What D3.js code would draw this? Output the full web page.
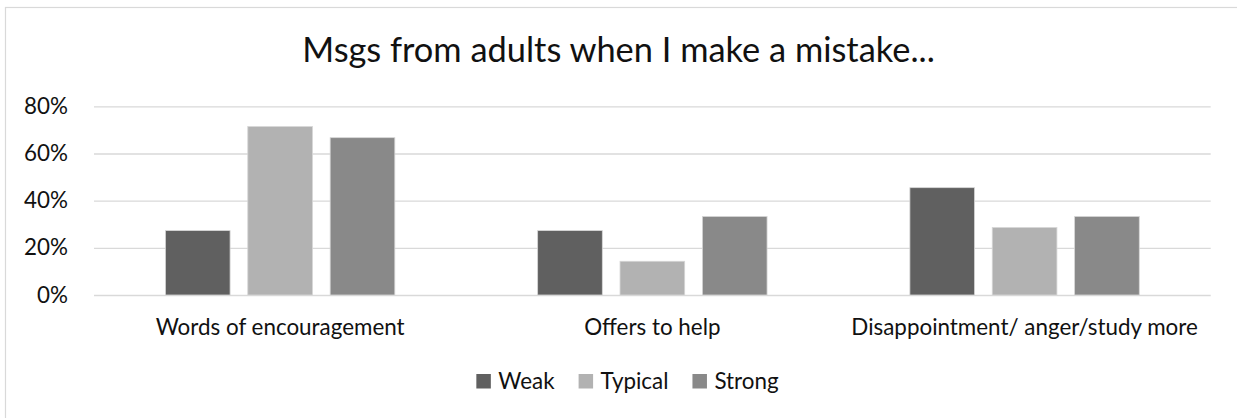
<!DOCTYPE html>
<html>
<head>
<meta charset="utf-8">
<script src="https://cdn.jsdelivr.net/npm/d3@7"></script>
<style>
  html, body { margin: 0; padding: 0; background: #fff; }
  svg { display: block; font-family: Lato, "Open Sans", sans-serif; }
</style>
</head>
<body>
<svg id="chart" width="1237" height="418"></svg>
<script>
// Data
const categories = ["Words of encouragement", "Offers to help", "Disappointment/ anger/study more"];
const seriesNames = ["Weak", "Typical", "Strong"];
const weak    = [0.273, 0.273, 0.455];
const typical = [0.714, 0.143, 0.286];
const strong  = [0.667, 0.333, 0.333];
const yTicks  = [0, 0.2, 0.4, 0.6, 0.8];
const title   = "Msgs from adults when I make a mistake...";

const seriesValues = { Weak: weak, Typical: typical, Strong: strong };
const colors = { Weak: "#606060", Typical: "#b2b2b2", Strong: "#898989" };

const W = 1237, H = 418;
const plot = { left: 94, right: 1210.7, top: 106.3, bottom: 295 };
const labelSize = 22.4;

const svg = d3.select("#chart");

// Chart frame
svg.append("rect")
  .attr("x", 5.5).attr("y", 7.5)
  .attr("width", W + 10).attr("height", H + 10)
  .attr("fill", "#fff")
  .attr("stroke", "#d9d9d9").attr("stroke-width", 1.2);

// Title
svg.append("text")
  .attr("x", 618.5).attr("y", 62)
  .attr("text-anchor", "middle")
  .attr("font-size", 34.4)
  .attr("fill", "#111")
  .text(title);

// Scales
const y = d3.scaleLinear().domain([0, 0.8]).range([plot.bottom, plot.top]);
const x0 = d3.scaleBand().domain(categories).range([plot.left, plot.right]).paddingInner(0).paddingOuter(0);
const x1 = d3.scaleBand().domain(seriesNames).range([0, x0.bandwidth()])
  .paddingInner(0.215).paddingOuter(0.867);

// Gridlines + y labels via axis
const yAxis = d3.axisLeft(y)
  .tickValues(yTicks)
  .tickFormat(d3.format(".0%"))
  .tickSize(-(plot.right - plot.left))
  .tickPadding(26);

const gy = svg.append("g")
  .attr("transform", `translate(${plot.left},0)`)
  .call(yAxis);
gy.select(".domain").remove();
gy.selectAll(".tick line").attr("stroke", "#d9d9d9").attr("stroke-width", 1.3);
gy.selectAll(".tick text")
  .attr("font-size", labelSize)
  .attr("fill", "#111")
  .attr("font-family", "Lato, sans-serif");

// Bars
const groups = svg.append("g").selectAll("g")
  .data(categories)
  .join("g")
  .attr("transform", d => `translate(${x0(d)},0)`);

groups.selectAll("rect")
  .data((c, i) => seriesNames.map(s => ({ s, v: seriesValues[s][i] })))
  .join("rect")
  .attr("x", d => x1(d.s))
  .attr("width", x1.bandwidth())
  .attr("y", d => y(d.v))
  .attr("height", d => y(0) - y(d.v))
  .attr("fill", d => colors[d.s])
  .attr("stroke", "#d6d6d6")
  .attr("stroke-width", 0.8);

// Category labels
const xAxis = d3.axisBottom(x0).tickSize(0).tickPadding(0);
const gx = svg.append("g")
  .attr("transform", `translate(0,${plot.bottom})`)
  .call(xAxis);
gx.select(".domain").remove();
gx.selectAll(".tick text")
  .attr("dy", null)
  .attr("y", 39.5)
  .attr("font-size", labelSize)
  .attr("fill", "#111")
  .attr("font-family", "Lato, sans-serif");

// Legend, centered under the chart
const legend = svg.append("g");
const sw = 14.5, gapText = 7.5, gapItem = 24;
let cursor = 0;
seriesNames.forEach(s => {
  const g = legend.append("g");
  g.append("rect")
    .attr("x", 0).attr("y", -14.5)
    .attr("width", sw).attr("height", sw)
    .attr("fill", colors[s]);
  const t = g.append("text")
    .attr("x", sw + gapText).attr("y", 0)
    .attr("font-size", labelSize)
    .attr("fill", "#111")
    .text(s);
  const w = sw + gapText + t.node().getComputedTextLength();
  g.attr("transform", `translate(${cursor},0)`);
  cursor += w + gapItem;
});
const legendWidth = cursor - gapItem;
legend.attr("transform", `translate(${627.5 - legendWidth / 2},388.5)`);
</script>
</body>
</html>
